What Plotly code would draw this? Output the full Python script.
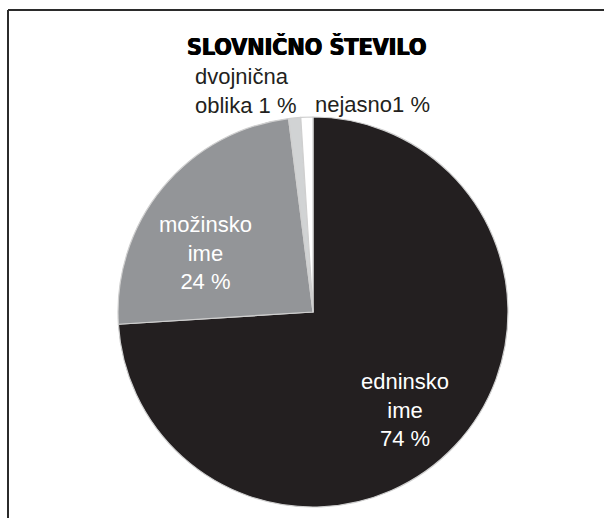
import plotly.graph_objects as go

# Data
categories = ["edninsko ime", "možinsko ime", "dvojnična oblika", "nejasno"]
shares = [74, 24, 1, 1]
colors = ["#231f20", "#939598", "#d1d3d4", "#ffffff"]

W, H = 604, 518


def px(x):
    return x / W


def py(y):
    return 1 - y / H


# Pie geometry in pixels: centre and radius
cx, cy, r = 313, 312, 195

fig = go.Figure(
    go.Pie(
        labels=categories,
        values=shares,
        sort=False,
        direction="clockwise",
        rotation=0,
        marker=dict(colors=colors, line=dict(color="#cfcfcf", width=1.2)),
        textinfo="none",
        hoverinfo="label+percent",
        showlegend=False,
        domain=dict(x=[px(cx - r), px(cx + r)], y=[py(cy + r), py(cy - r)]),
    )
)

label_font = dict(family="Liberation Sans, Arial, sans-serif", size=22)

# Slice labels (text built from the data)
label_text = [
    "edninsko<br>ime<br>%d %%" % shares[0],
    "možinsko<br>ime<br>%d %%" % shares[1],
    "dvojnična<br>oblika %d %%" % shares[2],
    "nejasno%d %%" % shares[3],
]
label_pos = [(405, 410, "center"), (205, 253, "center"), (193, 91, "left"), (313, 104, "left")]
label_color = ["#ffffff", "#ffffff", "#231f20", "#231f20"]

annotations = []
for t, (x, y, al), c in zip(label_text, label_pos, label_color):
    annotations.append(
        dict(
            x=px(x), y=py(y), xref="paper", yref="paper",
            text=t, showarrow=False, align=al,
            xanchor=al if al != "center" else "center", yanchor="middle",
            font=dict(color=c, **label_font),
        )
    )

# Title (heavy condensed sans; a slight horizontal shadow thickens the strokes)
annotations.append(
    dict(
        x=px(306), y=py(46), xref="paper", yref="paper",
        text="<b>SLOVNIČNO ŠTEVILO</b>", showarrow=False,
        xanchor="center", yanchor="middle",
        font=dict(family="DejaVu Sans Condensed, DejaVu Sans, sans-serif", size=23,
                  color="#000000", shadow="0.6px 0 0 #000, -0.6px 0 0 #000"),
    )
)

# Frame: top and left rules
shapes = [
    dict(type="line", xref="paper", yref="paper", x0=px(8), y0=py(10), x1=1.0, y1=py(10),
         line=dict(color="#2b2b2b", width=2)),
    dict(type="line", xref="paper", yref="paper", x0=px(8), y0=py(10), x1=px(8), y1=0.0,
         line=dict(color="#2b2b2b", width=2)),
]

fig.update_layout(
    width=W, height=H, autosize=False,
    margin=dict(l=0, r=0, t=0, b=0),
    paper_bgcolor="#ffffff", plot_bgcolor="#ffffff",
    annotations=annotations, shapes=shapes,
)

fig.write_html("out.html")
